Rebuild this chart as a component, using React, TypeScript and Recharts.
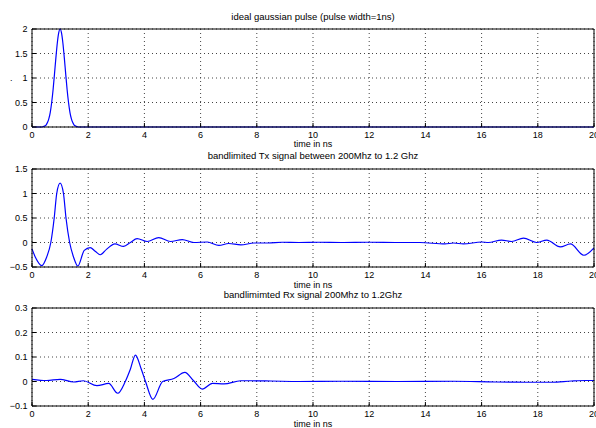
import React from "react";
import { LineChart, Line, XAxis, YAxis, CartesianGrid } from "recharts";

const FONT = '"Liberation Sans", Arial, Helvetica, sans-serif';

const X_TICKS = [0, 2, 4, 6, 8, 10, 12, 14, 16, 18, 20];

// panel 1: ideal gaussian pulse
const gaussTime = [
  0, 0.35, 0.4, 0.45, 0.5, 0.55, 0.6, 0.65, 0.7, 0.75, 0.8, 0.85, 0.9, 0.95, 1.0,
  1.05, 1.1, 1.15, 1.2, 1.25, 1.3, 1.35, 1.4, 1.45, 1.5, 1.55, 1.6, 1.65, 20,
];
const gaussValue = [
  0, 0, 0.01, 0.02, 0.04, 0.09, 0.17, 0.3, 0.5, 0.76, 1.08, 1.41, 1.71, 1.92, 2.0,
  1.92, 1.71, 1.41, 1.08, 0.76, 0.5, 0.3, 0.17, 0.09, 0.04, 0.02, 0.01, 0, 0,
];
const gaussTicks = [0, 0.5, 1, 1.5, 2];

// panel 2: bandlimited Tx
const txTime = [
  0, 0.12, 0.35, 0.52, 0.67, 0.79, 0.88, 1.0, 1.12, 1.21, 1.34, 1.48, 1.63, 1.86,
  2.07, 2.25, 2.43, 2.65, 2.95, 3.26, 3.5, 3.74, 4.1, 4.51, 4.93, 5.35, 5.76,
  6.24, 6.65, 7.0, 7.43, 7.9, 8.4, 8.9, 9.5, 10.2, 11, 12, 13, 13.8, 14.7, 15.0,
  15.35, 16.0, 16.24, 16.71, 17.07, 17.49, 17.96, 18.32, 18.8, 19.16, 19.64, 20,
];
const txValue = [
  -0.13, -0.3, -0.47, -0.3, 0, 0.5, 1.0, 1.21, 1.0, 0.5, 0, -0.3, -0.48, -0.16,
  -0.105, -0.18, -0.25, -0.14, -0.03, -0.08, 0.0, 0.08, 0.02, 0.1, 0.02, 0.06, 0.0,
  0.01, -0.06, -0.02, -0.05, -0.01, -0.01, 0.005, 0, 0.005, 0, 0.005, 0, 0, -0.03, -0.01,
  -0.03, 0.01, 0, 0.05, 0.02, 0.09, 0, 0.05, -0.09, -0.03, -0.26, -0.11,
];
const txTicks = [-0.5, 0, 0.5, 1, 1.5];

// panel 3: bandlimited Rx
const rxTime = [
  0, 0.52, 1.0, 1.48, 1.83, 2.31, 2.73, 3.05, 3.32, 3.5, 3.68, 3.89, 4.04, 4.3,
  4.65, 5.05, 5.44, 5.75, 6.06, 6.42, 6.83, 7.43, 7.8, 8.5, 9.5, 11, 13, 15, 16.5,
  17.5, 18.5, 19.2, 19.7, 20,
];
const rxValue = [
  0.009, 0.004, 0.009, -0.002, 0.003, -0.017, -0.008, -0.048, 0, 0.05, 0.108, 0.05,
  0, -0.073, 0, 0.012, 0.037, 0.003, -0.031, -0.008, -0.01, 0.003, 0.003, 0.002, 0,
  0.001, 0, 0.001, -0.002, -0.003, -0.003, 0.002, 0.004, 0.004,
];
const rxTicks = [-0.1, 0, 0.1, 0.2, 0.3];

const toRows = (t: number[], v: number[]) => t.map((x, i) => ({ t: x, v: v[i] }));
const fmt = (v: number) => String(v).replace("-", "\u2212");

const tickStyle = { fontSize: 9, fill: "#000", fontFamily: FONT };

interface PanelProps {
  data: { t: number; v: number }[];
  yTicks: number[];
  title: string;
  titleOffset: number;
  labelOffset: number;
  top: number;
  height: number;
  marginTop: number;
  marginBottom: number;
  yLabel?: string;
}

function Panel(p: PanelProps) {
  const domain = [p.yTicks[0], p.yTicks[p.yTicks.length - 1]];
  return (
    <div style={{ position: "absolute", left: 0, top: p.top }}>
      <LineChart
        width={596}
        height={p.height}
        data={p.data}
        margin={{ top: p.marginTop, right: 1, bottom: p.marginBottom, left: 2 }}
      >
        <CartesianGrid stroke="#444" strokeDasharray="1 3" />
        <XAxis
          dataKey="t"
          type="number"
          domain={[0, 20]}
          ticks={X_TICKS}
          interval={0}
          height={13}
          tickSize={-4}
          tickMargin={9}
          stroke="#000"
          tick={tickStyle}
          label={{
            value: "time in ns",
            position: "bottom",
            offset: p.labelOffset,
            fontSize: 9,
            fill: "#000",
            fontFamily: FONT,
          }}
        />
        <XAxis
          xAxisId="top"
          orientation="top"
          type="number"
          domain={[0, 20]}
          ticks={X_TICKS}
          interval={0}
          height={1}
          tickSize={-4}
          tick={false}
          stroke="#000"
          label={{
            value: p.title,
            position: "top",
            offset: p.titleOffset,
            fontSize: 9.5,
            fill: "#000",
            fontFamily: FONT,
          }}
        />
        <YAxis
          type="number"
          domain={domain}
          ticks={p.yTicks}
          interval={0}
          width={30}
          tickSize={-4}
          tickMargin={8.5}
          stroke="#000"
          tick={tickStyle}
          tickFormatter={fmt}
          label={
            p.yLabel
              ? { value: p.yLabel, position: "insideLeft", offset: 8, fontSize: 9, fill: "#000" }
              : undefined
          }
        />
        <YAxis
          yAxisId="right"
          orientation="right"
          type="number"
          domain={domain}
          ticks={p.yTicks}
          interval={0}
          width={1}
          tickSize={-4}
          tick={false}
          stroke="#000"
        />
        <Line
          type="monotone"
          dataKey="v"
          stroke="#0000ff"
          strokeWidth={1.2}
          dot={false}
          isAnimationActive={false}
        />
      </LineChart>
    </div>
  );
}

export default function App() {
  return (
    <div
      style={{
        position: "absolute",
        left: 0,
        top: 0,
        width: 596,
        height: 428,
        background: "#fff",
        fontFamily: FONT,
      }}
    >
      <Panel
        data={toRows(gaussTime, gaussValue)}
        yTicks={gaussTicks}
        title="ideal gaussian pulse (pulse width=1ns)"
        titleOffset={8}
        labelOffset={0.6}
        top={0}
        height={152}
        marginTop={28}
        marginBottom={12}
        yLabel="."
      />
      <Panel
        data={toRows(txTime, txValue)}
        yTicks={txTicks}
        title="bandlimited Tx signal between 200Mhz to 1.2 Ghz"
        titleOffset={9.5}
        labelOffset={1.6}
        top={140}
        height={152}
        marginTop={28}
        marginBottom={12}
      />
      <Panel
        data={toRows(rxTime, rxValue)}
        yTicks={rxTicks}
        title="bandlimimted Rx signal 200Mhz to 1.2Ghz"
        titleOffset={9}
        labelOffset={1.6}
        top={280}
        height={148}
        marginTop={27}
        marginBottom={9}
      />
    </div>
  );
}
